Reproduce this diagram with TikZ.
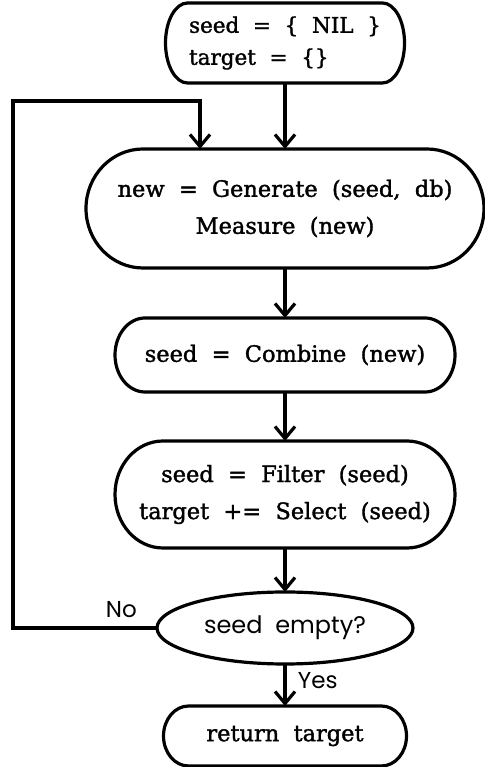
\documentclass[tikz,border=0pt]{standalone}
\usepackage{fontspec}
\setmainfont{DejaVu Serif}
\newfontfamily\boxfont{DejaVu Serif}[FakeBold=1.5]
\newfontfamily\labelfont{Poppins}
\usetikzlibrary{arrows.meta,positioning,shapes.geometric,calc}

% terminator frame with elliptic ends round a named node
\newcommand\termframe[2]{%
  \draw[frame] let \p1=(#1.north), \p2=(#1.south), \n1={(\y1-\y2)/2} in
    ([xshift=#2]#1.north west) -- ([xshift=-#2]#1.north east)
    arc[start angle=90, end angle=-90, x radius=#2, y radius=\n1]
    -- ([xshift=#2]#1.south west)
    arc[start angle=270, end angle=90, x radius=#2, y radius=\n1] -- cycle;}

\begin{document}
\begin{tikzpicture}[
    x=1pt, y=1pt,
    box/.style={rectangle, outer sep=0pt, inner sep=0pt, align=center,
                font=\fontsize{22.5}{37}\selectfont\boxfont},
    frame/.style={line width=3.2pt},
    test/.style={draw, ellipse, line width=3.2pt, inner sep=0pt, outer sep=0pt,
                 minimum width=256pt, minimum height=72pt,
                 font=\fontsize{24}{28}\selectfont\labelfont},
    tag/.style={font=\fontsize{23}{27}\selectfont\labelfont},
    arr/.style={-{Straight Barb[length=12pt, width=20pt, line width=3.2pt]}, line width=3.2pt},
    node distance=49pt
]
    \useasboundingbox (0,0) rectangle (484,767);
    \node[box, minimum width=239pt, minimum height=80pt, align=left,
          font=\fontsize{21.5}{32}\selectfont\boxfont] (init) at (285,724)
          {seed~~=~~\{~~NIL~~\}\\target~~=~~\{\}};
    \node[box, minimum width=398pt, minimum height=119pt, below=66pt of init] (gen)
          {new~~=~~Generate~~(seed,~~db)\\Measure~~(new)};
    \node[box, minimum width=340pt, minimum height=74pt, below=50pt of gen] (comb)
          {seed~~=~~Combine~~(new)};
    \node[box, minimum width=340pt, minimum height=107pt, below=of comb] (filt)
          {seed~~=~~Filter~~(seed)\\target~~+=~~Select~~(seed)};
    \node[test, below=44pt of filt] (empty) {seed~~empty?};
    \node[box, minimum width=243pt, minimum height=60pt, below=42pt of empty] (ret)
          {return~~target};
    \termframe{init}{22pt}
    \termframe{gen}{57pt}
    \termframe{comb}{30pt}
    \termframe{filt}{48pt}
    \termframe{ret}{25pt}
    % main flow
    \draw[arr] (init) -- (gen);
    \draw[arr] (gen) -- (comb);
    \draw[arr] (comb) -- (filt);
    \draw[arr] (filt) -- (empty);
    \draw[arr] (empty) -- node[tag, right=8pt, pos=0.4] (yes) {Yes} (ret);
    % loop back
    \coordinate (entry) at ([xshift=-85pt]gen.north);
    \draw[arr] (empty.west) -- ++(-144,0) |- ([yshift=48pt]entry) -- (entry);
    \node[tag, above left=6.7pt and 16.7pt of empty.west] (no) {No};
\end{tikzpicture}
\end{document}
